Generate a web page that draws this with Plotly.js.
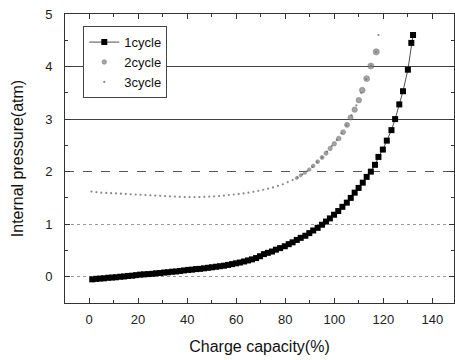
<!DOCTYPE html>
<html><head><meta charset="utf-8">
<script src="https://cdn.plot.ly/plotly-3.0.1.min.js"></script>
<style>html,body{margin:0;padding:0;background:#fff}#chart{width:455px;height:360px}</style>
</head><body><div id="chart"></div>
<script>
// 1cycle (black squares)
const cycle1X = [1.3,2.9,4.5,6.1,7.8,9.4,11.0,12.7,14.3,15.9,17.6,19.2,20.8,22.4,24.1,25.7,27.3,29.0,30.6,32.2,33.8,35.5,37.1,38.7,40.4,42.0,43.6,45.2,46.9,48.5,50.1,51.8,53.4,55.0,56.7,58.3,59.9,61.5,63.2,64.8,66.4,68.1,69.7,71.3,72.9,74.6,76.2,77.9,79.8,81.4,83.0,84.7,86.3,88.2,89.8,91.4,93.2,95.0,96.6,98.2,99.9,101.6,103.3,105.1,106.7,108.3,109.9,111.6,113.2,114.9,116.6,118.0,119.8,121.4,123.3,124.8,126.5,128.0,130.0,131.4,132.1];
const cycle1Y = [-0.05,-0.04,-0.035,-0.03,-0.02,-0.015,-0.01,0.0,0.005,0.015,0.02,0.03,0.04,0.045,0.05,0.055,0.065,0.07,0.08,0.085,0.095,0.10,0.11,0.12,0.13,0.135,0.145,0.15,0.16,0.17,0.18,0.19,0.2,0.21,0.225,0.24,0.255,0.27,0.29,0.31,0.33,0.355,0.39,0.43,0.455,0.48,0.515,0.545,0.58,0.62,0.655,0.70,0.74,0.78,0.83,0.88,0.93,0.99,1.05,1.11,1.18,1.25,1.33,1.41,1.50,1.60,1.69,1.79,1.90,2.00,2.13,2.28,2.42,2.59,2.79,3.00,3.28,3.53,3.94,4.45,4.60];
// 2cycle (grey circles)
const cycle2X = [84.7,86.3,88.0,89.8,91.4,93.2,95.0,96.6,98.3,100.0,101.8,103.6,105.2,106.6,108.3,110.0,111.4,113.2,114.9,117.1];
const cycle2Y = [1.88,1.93,1.98,2.04,2.11,2.19,2.27,2.35,2.44,2.53,2.63,2.75,2.89,3.03,3.18,3.36,3.55,3.77,4.01,4.28];
// 3cycle (tiny dots)
const cycle3X = [1,3,5,7,9,11,13,15,17,19,21,23,25,27,29,31,33,35,37,39,41,43,45,47,49,51,53,55,57,59,61,63,65,67,69,71,73,75,77,79,81,83,85,87,89,91,93,95,97,99,101,103,105,107,109,111,113,115,117,118];
const cycle3Y = [1.62,1.61,1.60,1.595,1.59,1.585,1.58,1.575,1.57,1.565,1.56,1.555,1.55,1.545,1.54,1.535,1.53,1.525,1.52,1.515,1.515,1.515,1.515,1.52,1.525,1.53,1.535,1.545,1.555,1.565,1.575,1.585,1.60,1.615,1.635,1.655,1.675,1.70,1.73,1.76,1.80,1.84,1.89,1.95,2.01,2.09,2.18,2.27,2.38,2.49,2.60,2.73,2.88,3.07,3.26,3.50,3.76,4.02,4.28,4.60];
const seriesNames = ['1cycle','2cycle','3cycle'];
const xTickVals = [0,20,40,60,80,100,120,140];
const yTickVals = [0,1,2,3,4,5];
const dottedGridVals = [0,1];
const dashedGridVals = [2];
const solidGridVals = [3,4];

const font = {family:'Arial, "Liberation Sans", sans-serif', size:13, color:'#222'};
// marker sizes of the 2cycle circles grow along the curve (style only)
const c2Sizes = cycle2X.map((_, i) => 3.0 + 3.2 * i / (cycle2X.length - 1));
const traces = [
  {x:cycle3X, y:cycle3Y, name:seriesNames[2], type:'scatter', mode:'markers',
   marker:{symbol:'circle', size:2.2, color:'#8a8a8a'}, legendrank:3},
  {x:cycle2X, y:cycle2Y, name:seriesNames[1], type:'scatter', mode:'markers',
   marker:{symbol:'circle', size:c2Sizes, color:'#7d7d7d', line:{color:'#555', width:0.6}}, legendrank:2},
  {x:cycle1X, y:cycle1Y, name:seriesNames[0], type:'scatter', mode:'lines+markers',
   line:{color:'#222', width:0.8}, marker:{symbol:'square', size:6, color:'#000'}, legendrank:1},
  {x:[], y:[], yaxis:'y2', showlegend:false, type:'scatter'},
  {x:[], y:[], yaxis:'y3', showlegend:false, type:'scatter'},
  {x:[], y:[], yaxis:'y4', showlegend:false, type:'scatter'}
];
const axisCommon = {showline:true, linecolor:'#333', linewidth:1, mirror:'ticks', ticks:'inside',
  ticklen:5, tickcolor:'#333', zeroline:false, tickfont:font};
const gridAxis = (vals, color, dash) => ({overlaying:'y', anchor:'x', side:'left', range:[-0.5,5], tickvals:vals,
  showticklabels:false, ticks:'', showline:false, zeroline:false, showgrid:true, gridcolor:color, griddash:dash, gridwidth:1});
const layout = {
  width:455, height:360, margin:{l:65, r:1, t:14, b:57},
  paper_bgcolor:'#fff', plot_bgcolor:'#fff', font:font, showlegend:true,
  xaxis:Object.assign({}, axisCommon, {range:[-9.8,148.8], tickvals:xTickVals, showgrid:false,
    minor:{dtick:10, tick0:0, ticks:'inside', ticklen:3, tickcolor:'#333', showgrid:false},
    ticklabelstandoff:4,
    title:{text:'Charge capacity(%)', font:{family:font.family, size:16, color:'#111'}, standoff:15}}),
  yaxis:Object.assign({}, axisCommon, {range:[-0.5,5], tickvals:yTickVals, showgrid:false,
    minor:{dtick:0.5, tick0:0, ticks:'inside', ticklen:3, tickcolor:'#333', showgrid:false},
    ticklabelstandoff:9,
    title:{text:'Internal pressure(atm)', font:{family:font.family, size:16, color:'#111'}, standoff:17}}),
  yaxis2:gridAxis(solidGridVals, '#444', 'solid'),
  yaxis3:gridAxis(dashedGridVals, '#555', 'dash'),
  yaxis4:gridAxis(dottedGridVals, '#999', 'dot'),
  legend:{x:0.047, y:0.958, xanchor:'left', yanchor:'top', bgcolor:'#fff', bordercolor:'#444', borderwidth:1,
    font:{family:font.family, size:13, color:'#111'}, tracegroupgap:0, itemwidth:30, traceorder:'normal'}
};
Plotly.newPlot('chart', traces, layout, {displayModeBar:false, staticPlot:true});
</script></body></html>
